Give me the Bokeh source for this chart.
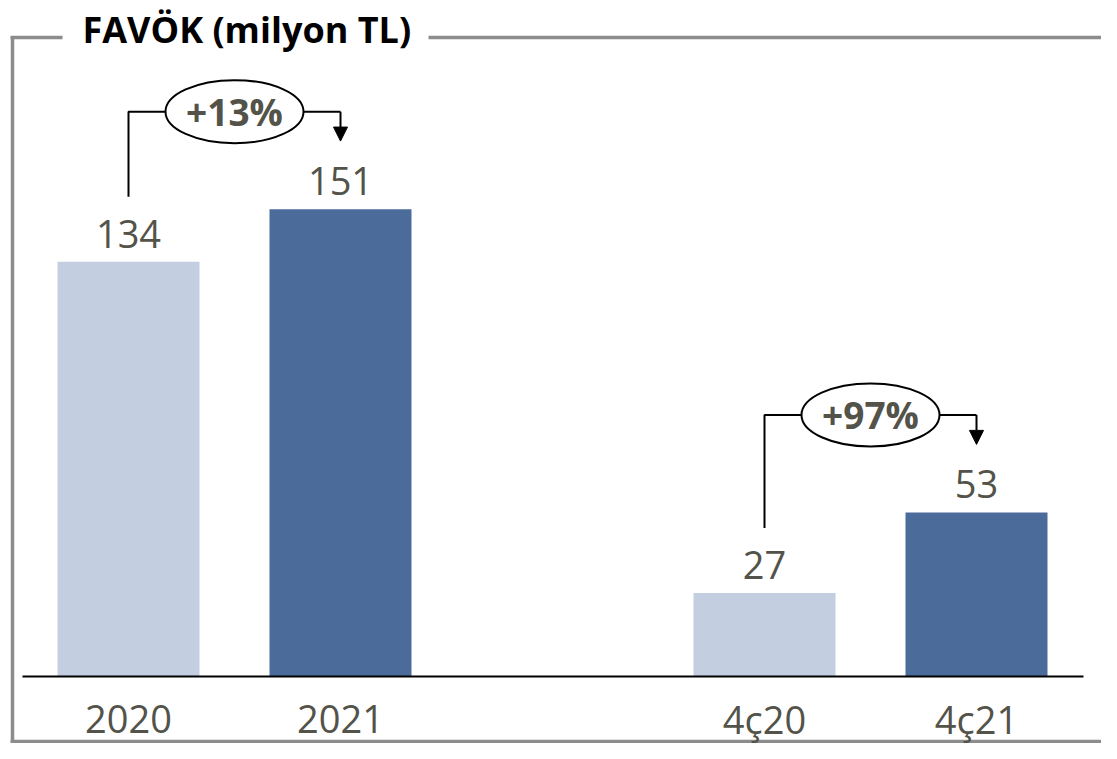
from bokeh.plotting import figure
from bokeh.models import Range1d, Arrow, NormalHead, ColumnDataSource
from bokeh.core.properties import value
from bokeh.embed import file_html
from bokeh.resources import INLINE

# ---- data ----
categories = ["2020", "2021", "4ç20", "4ç21"]
positions = [0, 1, 3, 4]
values = [134, 151, 27, 53]
value_labels = ["134", "151", "27", "53"]
bar_colors = ["#c3cee0", "#4b6b9a", "#c3cee0", "#4b6b9a"]
change_labels = ["+13%", "+97%"]
change_pairs = [(0, 1), (2, 3)]
title_text = "FAVÖK (milyon TL)"

W, H = 1101, 743
PX_PER_CAT = 212.0
PX_PER_UNIT = 3.095
X0_PX = 128.0   # pixel x of first category
Y0_PX = 676.0   # pixel y of baseline

def px2x(px):
    return (px - X0_PX) / PX_PER_CAT

def px2y(py):
    return (Y0_PX - py) / PX_PER_UNIT

p = figure(width=W, height=H, output_backend="svg", toolbar_location=None,
           x_range=Range1d(px2x(0), px2x(W)),
           y_range=Range1d(px2y(H), px2y(0)),
           x_axis_location=None, y_axis_location=None,
           min_border=0, outline_line_color=None)
p.xgrid.visible = False
p.ygrid.visible = False
p.background_fill_color = "white"
p.border_fill_color = "white"

FONT = value("Open Sans")
TXT = "#53534a"
FRAME = "#8c8c8c"

# frame
p.segment(x0=[px2x(12)], y0=[px2y(37)], x1=[px2x(12)], y1=[px2y(741)],
          line_color=FRAME, line_width=3.5)
p.segment(x0=[px2x(10), px2x(428)], y0=[px2y(37)] * 2,
          x1=[px2x(62), px2x(1120)], y1=[px2y(37)] * 2,
          line_color=FRAME, line_width=3.5)
p.segment(x0=[px2x(10)], y0=[px2y(741)], x1=[px2x(1120)], y1=[px2y(741)],
          line_color=FRAME, line_width=3.5)

# title
p.text(x=[px2x(82)], y=[px2y(29)], text=[title_text], text_font=FONT,
       text_font_size=value("36px"), text_font_style="bold", text_color="black",
       text_align="left", text_baseline="middle")

# bars
src = ColumnDataSource(dict(x=positions, top=values, color=bar_colors,
                            vlab=value_labels, cat=categories))
p.vbar(x="x", top="top", bottom=0, width=142 / PX_PER_CAT, color="color",
       line_color=None, source=src)

# baseline
p.segment(x0=[px2x(22)], y0=[0], x1=[px2x(1083)], y1=[0],
          line_color="black", line_width=2)

# value labels
p.text(x="x", y="top", text="vlab", source=src, y_offset=-28,
       text_font=FONT, text_font_size=value("38px"), text_color=TXT,
       text_align="center", text_baseline="middle")
# category labels
p.text(x="x", y=0, text="cat", source=src, y_offset=42,
       text_font=FONT, text_font_size=value("38px"), text_color=TXT,
       text_align="center", text_baseline="middle")

# growth brackets
for (i, j), lab in zip(change_pairs, change_labels):
    xl, xr = positions[i], positions[j]
    lo, hi = values[i], values[j]
    by = hi + 31.5
    p.line(x=[xl, xl, xr], y=[lo + 21, by, by], line_color="black", line_width=2)
    p.add_layout(Arrow(end=NormalHead(size=14, fill_color="black", line_color="black"),
                       x_start=xr, y_start=by, x_end=xr, y_end=hi + 22,
                       line_color="black", line_width=2))
    xm = (xl + xr) / 2
    p.ellipse(x=[xm], y=[by], width=138 / PX_PER_CAT, height=63 / PX_PER_UNIT,
              fill_color="white", line_color="black", line_width=2)
    p.text(x=[xm], y=[by], text=[lab], text_font=FONT,
           text_font_size=value("37px"), text_font_style="bold", text_color=TXT,
           text_align="center", text_baseline="middle")

open("out.html", "w").write(file_html(p, INLINE))
